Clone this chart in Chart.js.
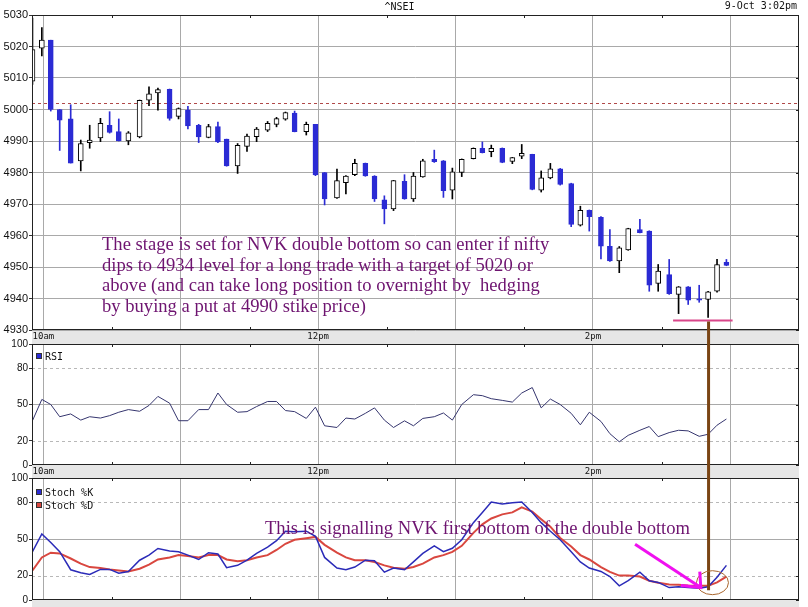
<!DOCTYPE html>
<html>
<head>
<meta charset="utf-8">
<script src="https://cdn.jsdelivr.net/npm/chart.js@4.4.0/dist/chart.umd.min.js"></script>
<style>
  body { margin:0; background:#fff; }
  #wrap { position:relative; width:808px; height:607px; overflow:hidden; background:#fff; }
  canvas { position:absolute; left:0; }
  #c1 { top:0; }
  #c2 { top:336px; }
  #c3 { top:470px; }
  #ov { top:0; pointer-events:none; }
  .note { position:absolute; font:18.6px "Liberation Serif","Times New Roman",serif; color:#6e1470; white-space:pre; line-height:20.7px; }
  .stamp { position:absolute; top:0; right:11px; font:10px "DejaVu Sans Mono",monospace; color:#111; line-height:12px; }
  .leg { position:absolute; left:36px; font:10px "DejaVu Sans Mono",monospace; color:#111; line-height:13px; }
  .leg i { display:inline-block; width:4px; height:4px; border:1px solid #333; margin-right:3px; vertical-align:1px; }
</style>
</head>
<body>
<div id="wrap">
  <canvas id="c1" width="808" height="344"></canvas>
  <canvas id="c2" width="808" height="142"></canvas>
  <canvas id="c3" width="808" height="137"></canvas>
  <canvas id="ov" width="808" height="607"></canvas>
  <div class="stamp">9-Oct 3:02pm</div>
  <div class="leg" style="top:350px"><i style="background:#2b2bd4"></i>RSI</div>
  <div class="leg" style="top:486px"><i style="background:#2b2bd4"></i>Stoch %K<br><i style="background:#d9473f"></i>Stoch %D</div>
  <div class="note" style="left:102px;top:234px">The stage is set for NVK double bottom so can enter if nifty
dips to 4934 level for a long trade with a target of 5020 or
above (and can take long position to overnight by  hedging
by buying a put at 4990 stike price)</div>
  <div class="note" style="left:265px;top:518px">This is signalling NVK first bottom of the double bottom</div>
</div>
<script>
// time of each candle, minutes after midnight (9:55 -> 595)
const times = [595.2, 599.3, 603.2, 607.1, 611.9, 616.3, 620.2, 624.9, 628.9, 632.9,
  637.1, 642.0, 646.1, 650.0, 655.1, 659.0, 663.1, 667.8, 672.1, 676.2,
  680.0, 684.8, 688.9, 693.1, 697.9, 701.8, 705.7, 709.7, 714.8, 718.8,
  722.8, 728.2, 732.1, 736.0, 740.6, 744.6, 748.9, 752.9, 757.7, 761.6,
  765.7, 770.7, 774.7, 778.6, 782.7, 787.8, 791.7, 795.6, 800.4, 804.8,
  808.9, 813.5, 817.4, 821.4, 825.7, 830.5, 834.5, 838.4, 843.5, 847.4,
  851.5, 855.4, 860.5, 864.6, 868.5, 873.3, 877.4, 881.6, 886.4, 890.3,
  894.2, 898.3]

const open = [5009, 5019.5, 5022, 5000, 4997, 4983.7, 4989.5, 4991, 4995, 4993,
  4990, 4991.3, 5003, 5005.3, 5006.4, 4997.8, 4999.8, 4995, 4991.1, 4994.6,
  4990.6, 4982.1, 4988.3, 4991.4, 4993.4, 4995.3, 4996.9, 4998.9, 4993, 4995.3,
  4980, 4971.9, 4976.8, 4979.3, 4982.9, 4978.9, 4971.3, 4968.4, 4977.2, 4971.6,
  4978.6, 4984.2, 4983.7, 4974.4, 4980, 4984.4, 4987.7, 4986.6, 4987.7, 4983.5,
  4985.2, 4985.8, 4974.4, 4978.3, 4981.2, 4976.5, 4963.3, 4968, 4965.8, 4956.6,
  4951.9, 4955.4, 4961.9, 4961.4, 4944.8, 4947.6, 4941.3, 4943.7, 4939.9, 4939.7,
  4942.3, 4951.5]
const high = [5029, 5026, 5022, 5000, 5001.5, 4990.3, 4995, 4997.2, 4999.3, 4997,
  4993, 5003, 5007.2, 5006.8, 5006.5, 5000.5, 5001, 4995.3, 4995.3, 4996,
  4990.6, 4989.2, 4992.2, 4994.3, 4996.2, 4997.5, 4999.2, 4999.5, 4996, 4995.3,
  4980, 4981.1, 4979, 4984.2, 4983, 4979, 4972.6, 4977.5, 4979.3, 4980,
  4984.2, 4987.1, 4983.8, 4981.4, 4984.3, 4987.8, 4989.7, 4988.7, 4987.8, 4984.8,
  4988.9, 4985.8, 4980.5, 4982.9, 4981.3, 4976.6, 4969.3, 4968.1, 4966, 4961.9,
  4956.5, 4962.3, 4965.1, 4961.5, 4950.8, 4952.4, 4943.8, 4943.8, 4944.2, 4942.3,
  4952.4, 4952.4]
const low = [5008, 5017, 4999.5, 4987, 4983, 4980.5, 4987.7, 4989.8, 4992.5, 4990,
  4988.8, 4991, 5001.2, 4999.8, 4996.6, 4997, 4993.8, 4989.5, 4991, 4989.5,
  4982, 4979.7, 4986.7, 4989.8, 4993, 4994.5, 4996.6, 4992.9, 4991.9, 4979,
  4969.7, 4971.8, 4973.2, 4979, 4978.8, 4970.8, 4963.7, 4967.9, 4971.5, 4970.8,
  4978.5, 4983.2, 4972.1, 4971.6, 4978.7, 4984.3, 4986.2, 4985, 4983.1, 4982.8,
  4984.4, 4974.5, 4973.8, 4978, 4976, 4962.8, 4963, 4961.4, 4952.6, 4951.8,
  4948.2, 4955.3, 4960.8, 4942.3, 4942.3, 4941.3, 4935.2, 4938.1, 4938.8, 4934,
  4942, 4950.4]
const close = [5019, 5022, 5000, 4996.6, 4983, 4989.2, 4990.3, 4995.6, 4992.7, 4990,
  4992.6, 5002.9, 5005, 5006.3, 4997.2, 5000.3, 4994.8, 4991.3, 4994.6, 4989.7,
  4982.1, 4988.6, 4991.6, 4993.8, 4995.6, 4997.1, 4999, 4993, 4995.3, 4979.2,
  4971.6, 4977.4, 4978.9, 4982.9, 4978.9, 4971.6, 4968.4, 4977.4, 4971.6, 4978.9,
  4983.7, 4983.4, 4974.2, 4980.2, 4984.2, 4987.7, 4986.3, 4987.7, 4983.2, 4984.7,
  4986.1, 4974.6, 4978.3, 4981.2, 4976.2, 4963.5, 4968, 4966, 4956.6, 4951.9,
  4956.1, 4962.2, 4960.9, 4944.2, 4948.7, 4941.5, 4943.7, 4939.5, 4939.5, 4942.1,
  4950.8, 4950.5]

const rsi = [36.6, 54.2, 50, 39.9, 42.2, 37.1, 39.9, 38.8, 40.8, 43.6,
  45.8, 44.4, 49.2, 56.7, 51.1, 36.6, 36.6, 45.8, 45.8, 59.5,
  50, 43.6, 44.1, 48.3, 52.5, 52.5, 45, 44.1, 38.5, 47.8,
  32.4, 31, 38.8, 38, 42.7, 47.2, 37.1, 31, 36.5, 32.4,
  38.5, 39.9, 43, 37.1, 50, 58.1, 57.3, 54.8, 53.4, 52,
  59.5, 64, 47.2, 54.5, 50, 42.7, 33.2, 43.6, 36, 25.9,
  19.2, 24.5, 28.7, 31.8, 23.4, 26.8, 28.7, 28.2, 23.7, 25.4,
  32.9, 38]

const stochK = [39.6, 54.2, 47.2, 39.6, 24.8, 22.3, 20.9, 25.1, 25.1, 22,
  23.4, 32.6, 36.8, 42.2, 40.2, 39.6, 36.8, 33.2, 38.8, 37.7,
  26.5, 28.4, 32.6, 38.2, 43.3, 48.6, 56.4, 55.9, 56.4, 52.2,
  34.9, 26.2, 24.8, 27, 32.6, 32.1, 22.8, 26.2, 24.8, 31.2,
  38.2, 44.4, 39.6, 42.4, 49.4, 63.4, 71.8, 80.3, 78.6, 79.7,
  80.3, 71.8, 63.4, 56.4, 49.4, 39.6, 31.2, 26.2, 23.4, 19.2,
  11.6, 15.8, 22.8, 15.8, 14.4, 10.2, 10.8, 10.2, 9.7, 10.8,
  18.6, 28.4]
const stochD = [24.2, 34.9, 38.8, 38.2, 34, 29.8, 27, 26.2, 25.1, 24.2,
  23.4, 25.6, 29, 33.2, 34.9, 36.8, 36, 34.9, 36.8, 36.8,
  33.2, 31.8, 32.6, 34.9, 36.8, 41, 46.1, 49.4, 50.6, 51.7,
  45.2, 38.8, 34.9, 32.6, 32.6, 31.2, 28.4, 26.5, 25.6, 27,
  29.8, 34.9, 36.8, 39.4, 44.4, 55, 62, 66.8, 70.2, 71.8,
  76, 72.4, 66.2, 60.1, 50.8, 43.8, 36.8, 33.2, 27, 23.1,
  20, 20, 19.2, 15.8, 14.1, 12.7, 12.5, 11.9, 11.6, 11.6,
  14.4, 19.2]

const prevClose = 5002.2
const priceTicks = [4930, 4940, 4950, 4960, 4970, 4980, 4990, 5000, 5010, 5020, 5030]
const oscTicks = [0, 20, 50, 80, 100]
const oscLevels = [20, 80]
const hourTicks = [600, 660, 720, 780, 840, 900]
const halfTicks = [630, 690, 750, 810, 870]
const hourLabels = {600: '10am', 720: '12pm', 840: '2pm'}

// hand drawn marks of the author
const supportLevel = 4933, supportFrom = 875, supportTo = 901
const markTime = 890.5, markBottom = 8
const arrowFrom = [858.4, 45.6], arrowTo = [887.1, 10.2]
const ringAt = [892.2, 14.2]

const blue = '#2b2bd4'
const gridGray = '#a9a9a9'

/* gray band under each panel */
const band = {
  id: 'band',
  beforeDraw(chart) {
    const {ctx, chartArea: a} = chart
    ctx.save()
    ctx.fillStyle = '#e6e6e6'
    ctx.fillRect(a.left, a.bottom, a.right - a.left, chart.height - a.bottom)
    ctx.restore()
  }
}

/* dashed levels + small half hour ticks + frame */
const frame = {
  id: 'frame',
  beforeDatasetsDraw(chart, args, opts) {
    const {ctx, chartArea: a, scales} = chart
    ctx.save()
    ;(opts.levels || []).forEach(v => {
      const y = Math.round(scales.y.getPixelForValue(v)) + 0.5
      ctx.strokeStyle = opts.levelColor
      ctx.lineWidth = 1
      ctx.setLineDash([3, 3])
      ctx.beginPath(); ctx.moveTo(a.left, y); ctx.lineTo(a.right, y); ctx.stroke()
    })
    ctx.restore()
  },
  afterDatasetsDraw(chart) {
    const {ctx, chartArea: a, scales} = chart
    ctx.save()
    ctx.strokeStyle = '#222'
    ctx.lineWidth = 1
    halfTicks.forEach(v => {
      const x = Math.round(scales.x.getPixelForValue(v)) + 0.5
      ctx.beginPath()
      ctx.moveTo(x, a.top); ctx.lineTo(x, a.top + 3)
      ctx.moveTo(x, a.bottom); ctx.lineTo(x, a.bottom - 3)
      ctx.stroke()
    })
    scales.y.ticks.forEach(t => {
      const y = Math.round(scales.y.getPixelForValue(t.value)) + 0.5
      ctx.beginPath(); ctx.moveTo(a.right - 3, y); ctx.lineTo(a.right, y); ctx.stroke()
    })
    ctx.strokeRect(a.left + 0.5, a.top + 0.5, a.right - a.left - 1, a.bottom - a.top - 1)
    ctx.restore()
  }
}

function xAxis(h, showLabels) {
  return {
    type: 'linear', min: 595, max: 930, offset: false,
    afterBuildTicks: s => { s.ticks = hourTicks.map(v => ({value: v})) },
    afterFit: s => { s.height = h },
    grid: { color: gridGray, drawTicks: false, offset: false },
    border: { display: false },
    ticks: {
      display: showLabels, autoSkip: false, maxRotation: 0, padding: 1, color: '#111',
      font: { family: 'DejaVu Sans Mono', size: 9 },
      callback: v => hourLabels[v] || ''
    }
  }
}

function yAxis(min, max, tickList, fontSize, gridColor) {
  return {
    min: min, max: max,
    afterBuildTicks: s => { s.ticks = tickList.map(v => ({value: v})) },
    afterFit: s => { s.width = 32 },
    grid: { color: gridColor, tickLength: 3, tickColor: '#333' },
    border: { display: false },
    ticks: { padding: 1, color: '#111', font: { family: 'Liberation Sans', size: fontSize },
      callback: v => String(v) }
  }
}

const upCandle = times.map((t, i) => close[i] >= open[i])

/* prix (chandeliers) */
const chPrice = new Chart(document.getElementById('c1'), {
  type: 'bar',
  data: {
    datasets: [{
      data: times.map((t, i) => ({x: t, y: [open[i], close[i]]})),
      backgroundColor: upCandle.map(u => u ? '#fff' : blue),
      borderColor: upCandle.map(u => u ? '#000' : blue),
      borderWidth: 1, borderSkipped: false,
      barThickness: 5, grouped: false, order: 0
    }, {
      data: times.map((t, i) => ({x: t, y: [low[i], high[i]]})),
      backgroundColor: upCandle.map(u => u ? '#000' : blue),
      barThickness: 1, grouped: false, order: 1
    }]
  },
  options: {
    responsive: false, animation: false,
    layout: { padding: { left: 0, right: 9, top: 0, bottom: 0 } },
    plugins: {
      legend: { display: false }, tooltip: { enabled: false },
      title: { display: true, text: '^NSEI', color: '#111', padding: { top: 1, bottom: 2 },
        font: { family: 'DejaVu Sans Mono', size: 10, weight: 'normal' } },
      frame: { levels: [prevClose], levelColor: '#b04848' }
    },
    scales: {
      x: xAxis(14, true),
      y: yAxis(4930, 5030, priceTicks, 11, gridGray)
    }
  },
  plugins: [band, frame]
})

const oscGrid = c => (c.tick && c.tick.value === 50) ? gridGray : 'rgba(0,0,0,0)'

/* RSI */
const chRsi = new Chart(document.getElementById('c2'), {
  type: 'line',
  data: {
    datasets: [{
      data: times.map((t, i) => ({x: t, y: rsi[i]})),
      borderColor: '#35356e', borderWidth: 1, pointRadius: 0, tension: 0
    }]
  },
  options: {
    responsive: false, animation: false,
    layout: { padding: { left: 0, right: 9, top: 8, bottom: 0 } },
    plugins: {
      legend: { display: false }, tooltip: { enabled: false },
      frame: { levels: oscLevels, levelColor: '#b8b8b8' }
    },
    scales: {
      x: xAxis(13, true),
      y: yAxis(0, 100, oscTicks, 10, oscGrid)
    }
  },
  plugins: [band, frame]
})

/* Stochastique */
const chStoch = new Chart(document.getElementById('c3'), {
  type: 'line',
  data: {
    datasets: [{
      data: times.map((t, i) => ({x: t, y: stochK[i]})),
      borderColor: '#2b2bb8', borderWidth: 1.5, pointRadius: 0, tension: 0
    }, {
      data: times.map((t, i) => ({x: t, y: stochD[i]})),
      borderColor: '#d9473f', borderWidth: 2, pointRadius: 0, tension: 0
    }]
  },
  options: {
    responsive: false, animation: false,
    layout: { padding: { left: 0, right: 9, top: 8, bottom: 0 } },
    plugins: {
      legend: { display: false }, tooltip: { enabled: false },
      frame: { levels: oscLevels, levelColor: '#b8b8b8' }
    },
    scales: {
      x: xAxis(7, false),
      y: yAxis(0, 100, oscTicks, 10, oscGrid)
    }
  },
  plugins: [band, frame]
})

/* annotations (lignes a la main) */
function pt(chart, top, t, v) {
  return [chart.scales.x.getPixelForValue(t), top + chart.scales.y.getPixelForValue(v)]
}
const ov = document.getElementById('ov').getContext('2d')
ov.lineCap = 'butt'

// support line
let a = pt(chPrice, 0, supportFrom, supportLevel), b = pt(chPrice, 0, supportTo, supportLevel)
ov.strokeStyle = '#d9468a'; ov.lineWidth = 2
ov.beginPath(); ov.moveTo(a[0], a[1]); ov.lineTo(b[0], b[1]); ov.stroke()

// brown vertical marker
a = pt(chPrice, 0, markTime, supportLevel); b = pt(chStoch, 470, markTime, markBottom)
ov.strokeStyle = '#7a4515'; ov.lineWidth = 3
ov.beginPath(); ov.moveTo(a[0], a[1] + 1); ov.lineTo(b[0], b[1]); ov.stroke()

// ring
a = pt(chStoch, 470, ringAt[0], ringAt[1])
ov.strokeStyle = '#a8652c'; ov.lineWidth = 1
ov.beginPath(); ov.ellipse(a[0], a[1], 16, 12, 0, 0, Math.PI * 2); ov.stroke()

// arrow
a = pt(chStoch, 470, arrowFrom[0], arrowFrom[1]); b = pt(chStoch, 470, arrowTo[0], arrowTo[1])
ov.strokeStyle = '#f010f0'; ov.lineWidth = 3
ov.beginPath(); ov.moveTo(a[0], a[1]); ov.lineTo(b[0], b[1]); ov.stroke()
ov.beginPath()
ov.moveTo(b[0] - 1, b[1] - 16); ov.lineTo(b[0], b[1]); ov.lineTo(b[0] - 20, b[1] - 2)
ov.stroke()
</script>
</body>
</html>
